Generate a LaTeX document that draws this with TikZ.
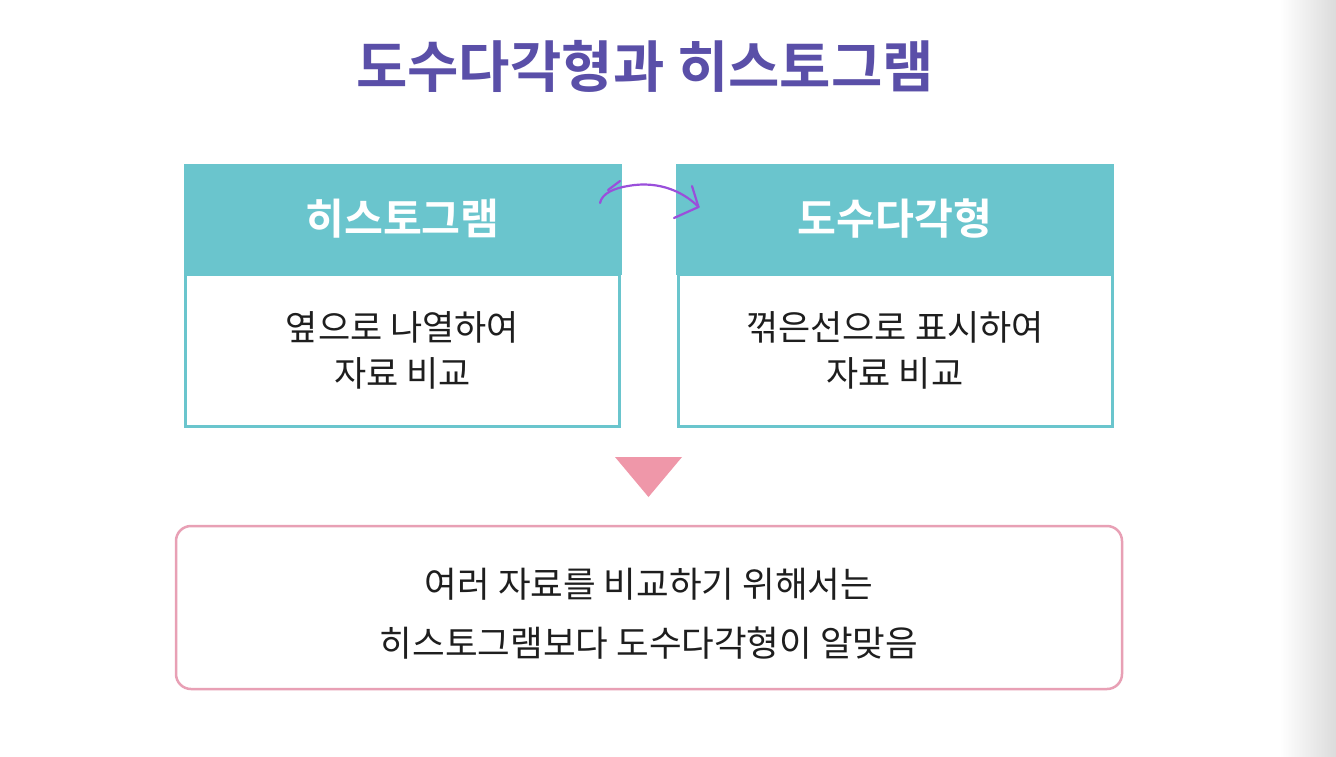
\documentclass[tikz,border=0pt]{standalone}
\usepackage{fontspec}
\usetikzlibrary{calc}
\newfontfamily\kr{Noto Sans CJK KR}
\newfontfamily\krb{Noto Sans CJK KR Bold}
\definecolor{teal1}{HTML}{6AC5CD}
\definecolor{titlepurple}{HTML}{5A4FA8}
\definecolor{pinktri}{HTML}{EF97A9}
\definecolor{pinkline}{HTML}{E8A0B5}
\definecolor{penpurple}{HTML}{9A4FDB}
\definecolor{txt}{HTML}{1E1E1E}
\tikzset{
  hdr/.style={fill=teal1, draw=teal1, line width=1pt, minimum width=437pt, minimum height=110pt, outer sep=0pt, inner sep=0pt, text=white, font=\krb\fontsize{42.3}{46}\selectfont},
  bodybox/.style={draw=teal1, line width=3pt, fill=white, minimum width=434pt, minimum height=152pt, outer sep=0pt, inner sep=0pt, align=center, text=txt, font=\kr\fontsize{35}{46}\selectfont},
  concl/.style={draw=pinkline, line width=2.5pt, rounded corners=15pt, minimum width=946pt, minimum height=163pt, inner sep=0pt},
  concltext/.style={inner sep=0pt, align=center, text=txt, font=\kr\fontsize{35.5}{59}\selectfont},
  pen/.style={draw=penpurple, line width=2.2pt, line cap=round, line join=round}
}
\begin{document}
\begin{tikzpicture}[x=1pt,y=-1pt]
\useasboundingbox (0,0) rectangle (1336,756);
\fill[white] (0,0) rectangle (1336,756);
\shade[left color=white, right color=black!14] (1280,0) rectangle (1336,756);
% title
\node[text=titlepurple, font=\krb\fontsize{55.8}{60}\selectfont, inner sep=0pt] (title) at (645,66) {도수다각형과 히스토그램};
% left box
\node[bodybox] (b1) at (402.5,350.5) {옆으로 나열하여\\자료 비교};
\node[hdr] (h1) at (402.5,219) {히스토그램};
% right box
\node[bodybox] (b2) at (895,350.5) {꺾은선으로 표시하여\\자료 비교};
\node[hdr] (h2) at (895,219) {도수다각형};
% downward triangle
\fill[pinktri] (615,457) -- (682,457) -- (648.5,497) -- cycle;
% conclusion
\node[concl] (c) at (649,607.5) {};
\node[concltext] (ct) at ($(c.center)+(0,6)$) {여러 자료를 비교하기 위해서는\\히스토그램보다 도수다각형이 알맞음};
% hand-drawn arrow
\coordinate (as) at ($(h1.east)+(-21,-16)$);
\coordinate (ae) at ($(h2.west)+(22,-12)$);
\draw[pen] (as) .. controls (602,193) and (615,188) .. (628,186) .. controls (660,180) and (685,193) .. (ae);
\draw[pen] (692,186) -- (ae) -- (674,218);
\draw[pen] (608,190) -- (620,181);
\end{tikzpicture}
\end{document}
